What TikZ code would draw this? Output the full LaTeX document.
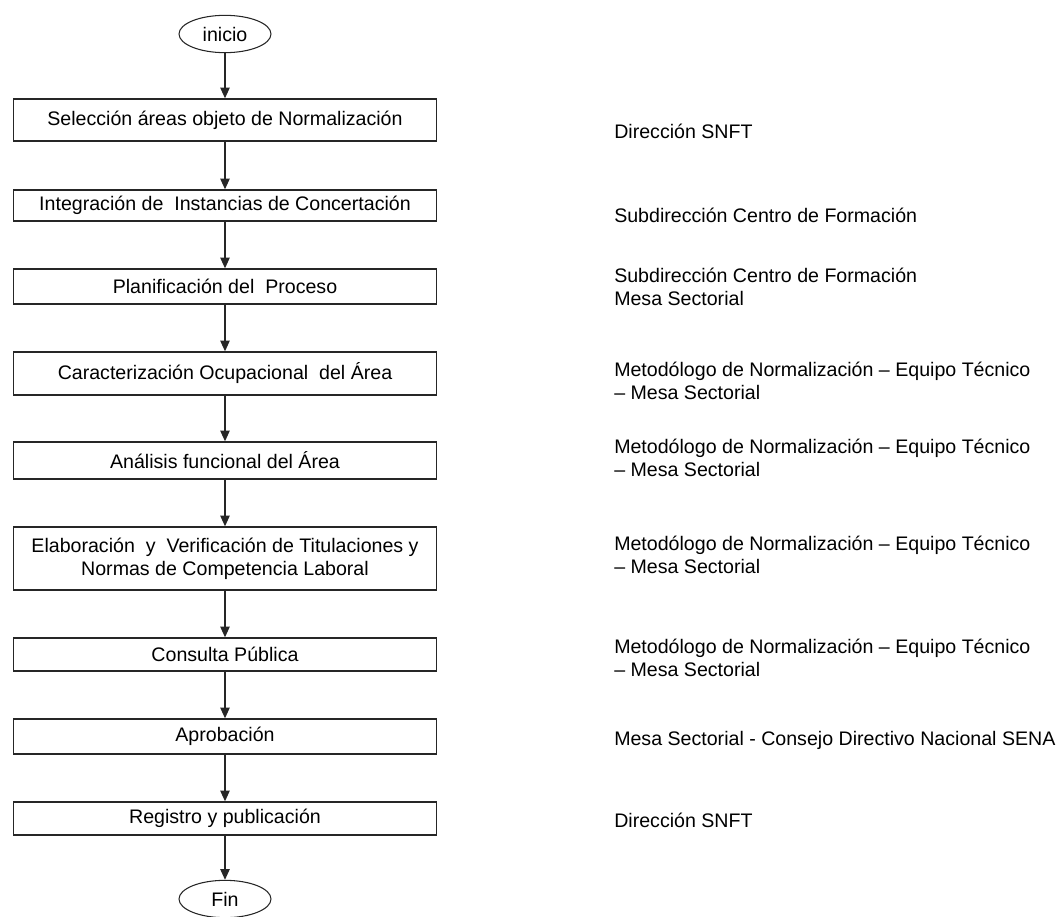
\documentclass[tikz,border=0pt]{standalone}
\usepackage{fontspec}
\setmainfont{Liberation Sans}
\usetikzlibrary{arrows.meta,positioning,shapes.geometric}
\colorlet{ink}{black!85}
\newcommand{\flowfont}{\fontsize{14.7}{17.5}\selectfont}
\tikzset{
  arrow/.style={-{Triangle[length=8pt,width=7pt]}, draw=ink, line width=1pt},
  stepbox/.style={
    rectangle,
    draw=ink,
    line width=1pt,
    minimum width=317pt,
    inner sep=2pt,
    align=center,
    font=\flowfont
  },
  terminal/.style={
    ellipse,
    draw=ink,
    line width=0.8pt,
    minimum width=69pt,
    minimum height=28pt,
    inner sep=0pt,
    font=\flowfont
  },
  actor/.style={anchor=west, inner sep=0pt, align=left, font=\flowfont}
}

\begin{document}
\begin{tikzpicture}[x=0.75pt,y=-0.75pt]
  \useasboundingbox (0,0) rectangle (1057,917);

  % flow of the process
  \node[terminal] (inicio) at (225,34) {inicio};
  \node[stepbox, minimum height=31.5pt] (s1) at (225,120) {Selección áreas objeto de Normalización};
  \node[stepbox, minimum height=23.25pt] (s2) at (225,205.5) {Integración de\ \ Instancias de Concertación};
  \node[stepbox, minimum height=26.25pt] (s3) at (225,286.5) {Planificación del\ \ Proceso};
  \node[stepbox, minimum height=32.25pt] (s4) at (225,373.5) {Caracterización Ocupacional\ \ del Área};
  \node[stepbox, minimum height=27.75pt] (s5) at (225,460.5) {Análisis funcional del Área};
  \node[stepbox, minimum height=47.25pt] (s6) at (225,558.5) {Elaboración\ \ y\ \ Verificación de Titulaciones y\\Normas de Competencia Laboral};
  \node[stepbox, minimum height=24.75pt] (s7) at (225,654.5) {Consulta Pública};
  \node[stepbox, minimum height=26.25pt] (s8) at (225,736.5) {Aprobación};
  \node[stepbox, minimum height=24.75pt] (s9) at (225,818.5) {Registro y publicación};
  \node[terminal] (fin) at (225,899) {Fin};

  \foreach \from/\to in {inicio/s1, s1/s2, s2/s3, s3/s4, s4/s5, s5/s6, s6/s7, s7/s8, s8/s9, s9/fin}
    \draw[arrow] (\from) -- (\to);

  % who is in charge
  \node[actor] (a1) at (614,131) {Dirección SNFT};
  \node[actor] (a2) at (614,215) {Subdirección Centro de Formación};
  \node[actor] (a3) at (614,287) {Subdirección Centro de Formación\\Mesa Sectorial};
  \node[actor] (a4) at (614,381) {Metodólogo de Normalización – Equipo Técnico\\– Mesa Sectorial};
  \node[actor] (a5) at (614,458) {Metodólogo de Normalización – Equipo Técnico\\– Mesa Sectorial};
  \node[actor] (a6) at (614,555) {Metodólogo de Normalización – Equipo Técnico\\– Mesa Sectorial};
  \node[actor] (a7) at (614,658) {Metodólogo de Normalización – Equipo Técnico\\– Mesa Sectorial};
  \node[actor] (a8) at (614,740) {Mesa Sectorial - Consejo Directivo Nacional SENA};
  \node[actor] (a9) at (614,820) {Dirección SNFT};
\end{tikzpicture}
\end{document}
